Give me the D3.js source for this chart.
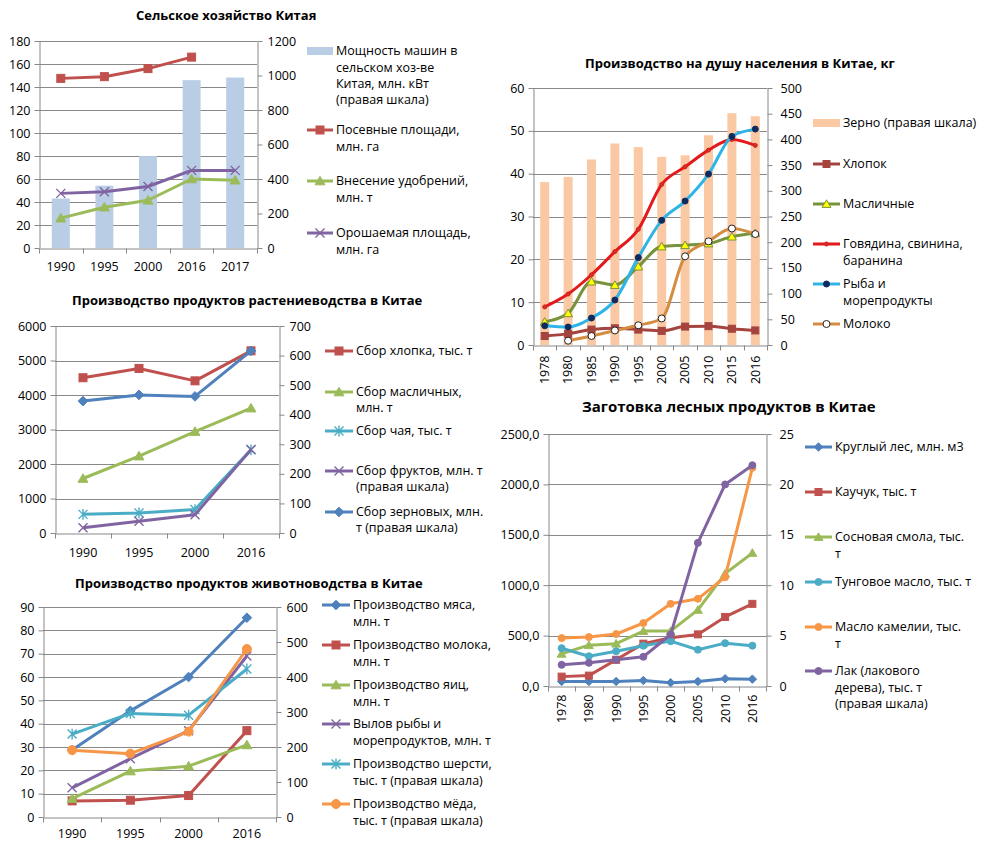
<!DOCTYPE html>
<html>
<head>
<meta charset="utf-8">
<script src="https://cdn.jsdelivr.net/npm/d3@7"></script>
<style>
  body { margin: 0; background: #fff; }
  svg text { font-family: "Open Sans", sans-serif; fill: #000; }
</style>
</head>
<body>
<svg id="chart" width="1004" height="851"></svg>
<script>
'use strict';

// ---- Сельское хозяйство Китая ----
const agriYears = ['1990', '1995', '2000', '2016', '2017'];
const machinePower = [287, 361, 533, 973, 988];      // правая шкала
const sownArea = [147.5, 149, 156, 166, null];
const fertilizer = [26, 35.5, 41.5, 60, 59];
const irrigated = [47.5, 49, 53.5, 67.5, 67.5];

// ---- Производство на душу населения ----
const perCapYears = ['1978', '1980', '1985', '1990', '1995', '2000', '2005', '2010', '2015', '2016'];
const grainPerCap = [317, 327, 361, 392, 385, 366, 369, 408, 451, 445];   // правая шкала
const cottonPerCap = [2.1, 2.6, 3.6, 3.9, 3.6, 3.3, 4.3, 4.4, 3.8, 3.4];
const oilseedPerCap = [5.4, 7.4, 14.8, 14.0, 18.3, 23.0, 23.3, 23.7, 25.3, 26.1];
const meatPerCap = [8.9, 11.9, 16.4, 21.8, 27.0, 37.5, 41.6, 45.5, 48.0, 46.6];
const fishPerCap = [4.5, 4.2, 6.3, 10.5, 20.4, 29.1, 33.6, 39.9, 48.7, 50.4];
const milkPerCap = [null, 1.0, 2.1, 3.4, 4.6, 6.2, 20.7, 24.2, 27.2, 25.9];

// ---- Растениеводство ----
const cropYears = ['1990', '1995', '2000', '2016'];
const cottonHarvest = [4500, 4770, 4410, 5280];
const oilseedHarvest = [1580, 2230, 2940, 3620];
const teaHarvest = [540, 580, 680, 2410];
const fruitHarvest = [18, 40, 62, 282];        // правая шкала
const grainHarvest = [446, 467, 462, 616];     // правая шкала

// ---- Животноводство ----
const livestockYears = ['1990', '1995', '2000', '2016'];
const meatOutput = [28.7, 45.5, 60, 85.4];
const milkOutput = [6.9, 7.2, 9.2, 37];
const eggOutput = [7.9, 19.7, 21.8, 30.9];
const fishCatch = [12.5, 25, 37, 69];
const woolOutput = [237, 296, 291, 423];       // правая шкала
const honeyOutput = [191, 181, 244, 480];      // правая шкала

// ---- Лесные продукты ----
const forestYears = ['1978', '1980', '1990', '1995', '2000', '2005', '2010', '2016'];
const roundwood = [45, 45, 45, 55, 33, 45, 72, 68];
const rubber = [93, 103, 260, 420, 478, 512, 685, 815];
const rosin = [320, 405, 420, 545, 545, 755, 1115, 1320];
const tungOil = [375, 295, 345, 400, 445, 360, 425, 400];
const camelliaOil = [475, 485, 515, 625, 815, 865, 1080, 2165];
const lacquer = [2.1, 2.3, 2.6, 2.9, 5.1, 14.2, 20.0, 21.9];   // правая шкала

const BLUE = '#4F81BD', RED = '#C0504D', GREEN = '#9BBB59',
      PURPLE = '#8064A2', TEAL = '#4BACC6', ORANGE = '#F79646';
const GRID = '#888888';
const TICK_FONT = 12.5, LEGEND_FONT = 12.5;

const svg = d3.select('#chart');

function marker(g, type, x, y, size, fill, stroke) {
  const h = size / 2;
  let el;
  if (type === 'square') {
    el = g.append('rect').attr('x', x - h).attr('y', y - h).attr('width', size).attr('height', size);
  } else if (type === 'diamond') {
    const d = h * 1.2;
    el = g.append('path').attr('d', `M${x},${y - d}L${x + d},${y}L${x},${y + d}L${x - d},${y}Z`);
  } else if (type === 'triangle') {
    el = g.append('path').attr('d', `M${x},${y - h * 1.05}L${x + h * 1.1},${y + h * 0.85}L${x - h * 1.1},${y + h * 0.85}Z`);
  } else if (type === 'circle') {
    el = g.append('circle').attr('cx', x).attr('cy', y).attr('r', h);
  } else if (type === 'x' || type === 'asterisk') {
    let d = `M${x - h},${y - h}L${x + h},${y + h}M${x - h},${y + h}L${x + h},${y - h}`;
    if (type === 'asterisk') d += `M${x},${y - h * 1.2}L${x},${y + h * 1.2}`;
    return g.append('path').attr('d', d).attr('fill', 'none')
      .attr('stroke', stroke).attr('stroke-width', 1.4);
  }
  el.attr('fill', fill).attr('stroke', stroke).attr('stroke-width', 1);
  return el;
}

function drawChart(c) {
  const g = svg.append('g');
  const x = d3.scaleBand().domain(c.cats).range([c.x0, c.x1]);
  const yL = d3.scaleLinear().domain([0, c.leftMax]).range([c.y1, c.y0]);
  const yR = d3.scaleLinear().domain([0, c.rightMax]).range([c.y1, c.y0]);
  const scaleOf = s => s.axis === 'right' ? yR : yL;
  const cx = d => x(d) + x.bandwidth() / 2;

  // title
  g.append('text')
    .attr('x', c.titleX).attr('y', c.titleY).attr('dy', '0.35em')
    .attr('font-weight', 'bold').attr('font-size', c.titleSize)
    .text(c.title);

  // horizontal gridlines
  const leftTicks = d3.range(0, c.leftMax + c.leftStep / 2, c.leftStep);
  g.append('g').selectAll('line').data(leftTicks.slice(1)).join('line')
    .attr('x1', c.x0).attr('x2', c.x1)
    .attr('y1', d => Math.round(yL(d)) + 0.5).attr('y2', d => Math.round(yL(d)) + 0.5)
    .attr('stroke', GRID).attr('stroke-width', 1);

  // bars
  if (c.bar) {
    g.append('g').selectAll('rect').data(c.cats).join('rect')
      .attr('x', d => cx(d) - c.bar.width / 2)
      .attr('width', c.bar.width)
      .attr('y', (d, i) => yR(c.bar.values[i]))
      .attr('height', (d, i) => yR(0) - yR(c.bar.values[i]))
      .attr('fill', c.bar.color);
  }

  // axes
  const styleAxis = sel => {
    sel.attr('font-family', null).attr('font-size', TICK_FONT);
    sel.selectAll('.domain').attr('stroke', GRID);
    sel.selectAll('.tick line').attr('stroke', GRID);
    sel.selectAll('text').attr('fill', '#000');
  };
  g.append('g').attr('transform', `translate(${c.x0 + 0.5},0)`)
    .call(d3.axisLeft(yL).tickValues(leftTicks).tickSize(5).tickSizeOuter(0)
      .tickPadding(4).tickFormat(c.leftFmt || d3.format('d')))
    .call(styleAxis);
  g.append('g').attr('transform', `translate(${c.x1 + 0.5},0)`)
    .call(d3.axisRight(yR).tickValues(d3.range(0, c.rightMax + c.rightStep / 2, c.rightStep))
      .tickSize(5).tickSizeOuter(0).tickPadding(c.rightPad || 5).tickFormat(d3.format('d')))
    .call(styleAxis);

  const xAxis = g.append('g').attr('transform', `translate(0,${c.y1 + 0.5})`)
    .call(d3.axisBottom(x).tickSize(0).tickPadding(c.labelPad))
    .call(styleAxis);
  if (c.rotate) {
    xAxis.selectAll('text')
      .attr('transform', 'rotate(-90)').attr('text-anchor', 'end')
      .attr('x', -c.labelPad).attr('y', 0).attr('dy', '0.35em');
  }
  // category boundary ticks
  const bounds = c.cats.map(d => x(d)).concat([x.range()[1]]);
  xAxis.append('g').selectAll('line').data(bounds).join('line')
    .attr('x1', d => Math.round(d) + 0.5).attr('x2', d => Math.round(d) + 0.5)
    .attr('y1', 0).attr('y2', 5).attr('stroke', GRID);

  // lines + markers
  c.series.forEach(s => {
    const y = scaleOf(s);
    const pts = c.cats.map((d, i) => [cx(d), s.values[i] == null ? null : y(s.values[i])]);
    g.append('path')
      .datum(pts)
      .attr('fill', 'none').attr('stroke', s.color).attr('stroke-width', 3)
      .attr('stroke-linejoin', 'round')
      .attr('d', d3.line().defined(p => p[1] != null)
        .curve(c.smooth ? d3.curveMonotoneX : d3.curveLinear)(pts));
    const mg = g.append('g');
    pts.forEach(p => {
      if (p[1] != null) marker(mg, s.marker, p[0], p[1], s.size, s.mFill || s.color, s.mStroke || s.color);
    });
  });

  // legend
  const lg = g.append('g');
  c.legend.forEach(item => {
    const mid = (c.legX0 + c.legX1) / 2;
    if (item.bar) {
      lg.append('rect').attr('x', c.legX0).attr('y', item.y - 4)
        .attr('width', c.legX1 - c.legX0).attr('height', 8).attr('fill', item.bar.color);
    } else {
      const s = item.series;
      lg.append('line').attr('x1', c.legX0).attr('x2', c.legX1)
        .attr('y1', item.y).attr('y2', item.y)
        .attr('stroke', s.color).attr('stroke-width', 3);
      marker(lg, s.marker, mid, item.y, s.size, s.mFill || s.color, s.mStroke || s.color);
    }
    item.lines.forEach((t, k) => {
      lg.append('text').attr('x', c.legX1 + 3).attr('y', item.y + k * c.lineH)
        .attr('dy', '0.35em').attr('font-size', LEGEND_FONT).text(t);
    });
  });
}

// ---- chart 1 ----
const s1 = {
  bar: { values: machinePower, color: '#B9CDE5', width: 18 },
  sown: { values: sownArea, color: RED, marker: 'square', size: 8 },
  fert: { values: fertilizer, color: GREEN, marker: 'triangle', size: 9 },
  irr: { values: irrigated, color: PURPLE, marker: 'x', size: 9 }
};
drawChart({
  title: 'Сельское хозяйство Китая', titleX: 136, titleY: 15, titleSize: 13,
  cats: agriYears, x0: 39, x1: 257, y0: 41, y1: 248,
  leftMax: 180, leftStep: 20, rightMax: 1200, rightStep: 200, labelPad: 14,
  bar: s1.bar,
  series: [s1.sown, s1.fert, s1.irr],
  legX0: 307, legX1: 333, lineH: 16.3,
  legend: [
    { bar: s1.bar, y: 51, lines: ['Мощность машин в', 'сельском хоз-ве', 'Китая, млн. кВт', '(правая шкала)'] },
    { series: s1.sown, y: 130, lines: ['Посевные площади,', 'млн. га'] },
    { series: s1.fert, y: 181, lines: ['Внесение удобрений,', 'млн. т'] },
    { series: s1.irr, y: 233, lines: ['Орошаемая площадь,', 'млн. га'] }
  ]
});

// ---- chart 2 ----
const s2 = {
  bar: { values: grainPerCap, color: '#FAC9A4', width: 9 },
  cotton: { values: cottonPerCap, color: '#A5443F', marker: 'square', size: 7 },
  oil: { values: oilseedPerCap, color: '#77933C', marker: 'triangle', size: 8, mFill: '#FFFF00', mStroke: '#77933C' },
  meat: { values: meatPerCap, color: '#E3191C', marker: 'circle', size: 4, mFill: '#C0392B' },
  fish: { values: fishPerCap, color: '#2FB4E6', marker: 'circle', size: 6, mFill: '#0D2B5E', mStroke: '#0D2B5E' },
  milk: { values: milkPerCap, color: '#D58C42', marker: 'circle', size: 7, mFill: '#FFFFFF', mStroke: '#222' }
};
drawChart({
  title: 'Производство на душу населения в Китае, кг', titleX: 585, titleY: 63, titleSize: 13,
  cats: perCapYears, x0: 533, x1: 767, y0: 88, y1: 345,
  leftMax: 60, leftStep: 10, rightMax: 500, rightStep: 50, labelPad: 10, rotate: true, smooth: true,
  rightPad: 8,
  bar: s2.bar,
  series: [s2.cotton, s2.oil, s2.meat, s2.fish, s2.milk],
  legX0: 813, legX1: 840, lineH: 16.5,
  legend: [
    { bar: s2.bar, y: 123, lines: ['Зерно (правая  шкала)'] },
    { series: s2.cotton, y: 164, lines: ['Хлопок'] },
    { series: s2.oil, y: 204, lines: ['Масличные'] },
    { series: s2.meat, y: 244, lines: ['Говядина, свинина,', 'баранина'] },
    { series: s2.fish, y: 284, lines: ['Рыба и', 'морепродукты'] },
    { series: s2.milk, y: 324, lines: ['Молоко'] }
  ]
});

// ---- chart 3 ----
const s3 = {
  cotton: { values: cottonHarvest, color: RED, marker: 'square', size: 8 },
  oil: { values: oilseedHarvest, color: GREEN, marker: 'triangle', size: 9 },
  tea: { values: teaHarvest, color: TEAL, marker: 'asterisk', size: 9 },
  fruit: { values: fruitHarvest, axis: 'right', color: PURPLE, marker: 'x', size: 9 },
  grain: { values: grainHarvest, axis: 'right', color: BLUE, marker: 'diamond', size: 8 }
};
drawChart({
  title: 'Производство продуктов растениеводства в Китае', titleX: 72, titleY: 300, titleSize: 13,
  cats: cropYears, x0: 55, x1: 279, y0: 326, y1: 533,
  leftMax: 6000, leftStep: 1000, rightMax: 700, rightStep: 100, labelPad: 15,
  series: [s3.cotton, s3.oil, s3.tea, s3.fruit, s3.grain],
  legX0: 325, legX1: 353, lineH: 16,
  legend: [
    { series: s3.cotton, y: 351, lines: ['Сбор хлопка, тыс. т'] },
    { series: s3.oil, y: 392, lines: ['Сбор масличных,', 'млн. т'] },
    { series: s3.tea, y: 431, lines: ['Сбор чая,  тыс. т'] },
    { series: s3.fruit, y: 471, lines: ['Сбор фруктов,  млн. т', '(правая шкала)'] },
    { series: s3.grain, y: 512, lines: ['Сбор зерновых, млн.', 'т (правая  шкала)'] }
  ]
});

// ---- chart 4 ----
const s4 = {
  meat: { values: meatOutput, color: BLUE, marker: 'diamond', size: 8 },
  milk: { values: milkOutput, color: RED, marker: 'square', size: 8 },
  egg: { values: eggOutput, color: GREEN, marker: 'triangle', size: 9 },
  fish: { values: fishCatch, color: PURPLE, marker: 'x', size: 9 },
  wool: { values: woolOutput, axis: 'right', color: TEAL, marker: 'asterisk', size: 9 },
  honey: { values: honeyOutput, axis: 'right', color: ORANGE, marker: 'circle', size: 9 }
};
drawChart({
  title: 'Производство продуктов животноводства в Китае', titleX: 75, titleY: 583, titleSize: 13,
  cats: livestockYears, x0: 43, x1: 276, y0: 607, y1: 817,
  leftMax: 90, leftStep: 10, rightMax: 600, rightStep: 100, labelPad: 12,
  series: [s4.meat, s4.milk, s4.egg, s4.fish, s4.wool, s4.honey],
  legX0: 322, legX1: 350, lineH: 16.5,
  legend: [
    { series: s4.meat, y: 605, lines: ['Производство мяса,', 'млн. т'] },
    { series: s4.milk, y: 645, lines: ['Производство молока,', 'млн. т'] },
    { series: s4.egg, y: 685, lines: ['Производство яиц,', 'млн. т'] },
    { series: s4.fish, y: 724, lines: ['Вылов рыбы и', 'морепродуктов, млн. т'] },
    { series: s4.wool, y: 764, lines: ['Производство шерсти,', 'тыс. т (правая  шкала)'] },
    { series: s4.honey, y: 804, lines: ['Производство мёда,', 'тыс. т (правая  шкала)'] }
  ]
});

// ---- chart 5 ----
const s5 = {
  wood: { values: roundwood, color: BLUE, marker: 'diamond', size: 7 },
  rubber: { values: rubber, color: RED, marker: 'square', size: 7 },
  rosin: { values: rosin, color: GREEN, marker: 'triangle', size: 8 },
  tung: { values: tungOil, color: TEAL, marker: 'circle', size: 7 },
  camellia: { values: camelliaOil, color: ORANGE, marker: 'circle', size: 7 },
  lacquer: { values: lacquer, axis: 'right', color: PURPLE, marker: 'circle', size: 7 }
};
drawChart({
  title: 'Заготовка лесных продуктов в Китае', titleX: 582, titleY: 407, titleSize: 15,
  cats: forestYears, x0: 548, x1: 766, y0: 434, y1: 686,
  leftMax: 2500, leftStep: 500, rightMax: 25, rightStep: 5, labelPad: 8, rotate: true,
  leftFmt: d => d3.format('.1f')(d).replace('.', ','),
  rightPad: 8,
  series: [s5.wood, s5.rubber, s5.rosin, s5.tung, s5.camellia, s5.lacquer],
  legX0: 805, legX1: 832, lineH: 16.5,
  legend: [
    { series: s5.wood, y: 447, lines: ['Круглый лес, млн. м3'] },
    { series: s5.rubber, y: 492, lines: ['Каучук, тыс. т'] },
    { series: s5.rosin, y: 537, lines: ['Сосновая смола, тыс.', 'т'] },
    { series: s5.tung, y: 582, lines: ['Тунговое масло, тыс. т'] },
    { series: s5.camellia, y: 627, lines: ['Масло камелии, тыс.', 'т'] },
    { series: s5.lacquer, y: 671, lines: ['Лак (лакового', 'дерева), тыс. т', '(правая шкала)'] }
  ]
});
</script>
</body>
</html>
